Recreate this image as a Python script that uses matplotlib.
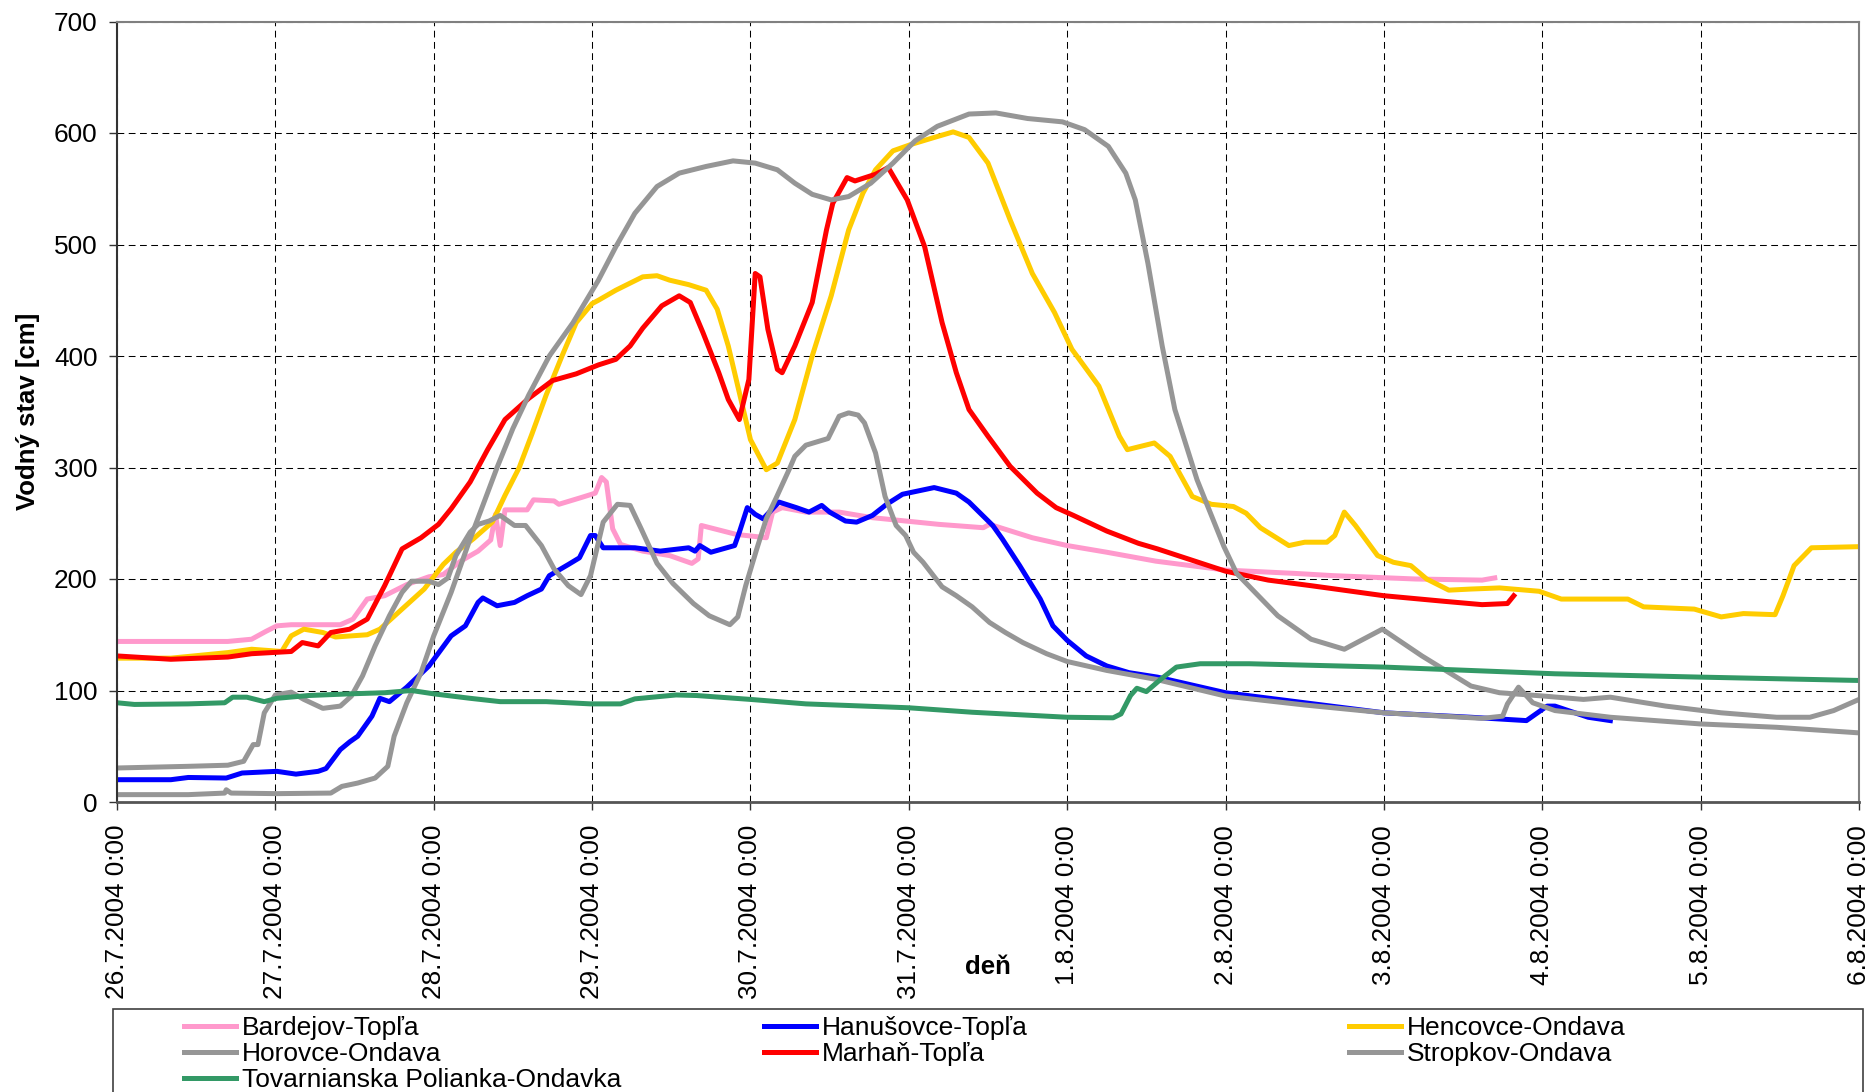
import matplotlib
matplotlib.use('Agg')
import matplotlib.pyplot as plt
from matplotlib.patches import Rectangle

plt.rcParams['font.family'] = ['Liberation Sans', 'DejaVu Sans']

# čas v dňoch od 26.7.2004 0:00, vodný stav v cm
bardejov_t = [0, 0.70, 0.85, 0.94, 1.01, 1.10, 1.41, 1.49, 1.58, 1.69, 1.83, 1.97, 2.06, 2.17, 2.28, 2.36,
              2.39, 2.42, 2.45, 2.59, 2.63, 2.76, 2.79, 2.93, 3.02, 3.06, 3.09, 3.13, 3.18, 3.32, 3.49, 3.63,
              3.67, 3.69, 3.91, 4.10, 4.14, 4.20, 4.35, 4.56, 4.77, 4.98, 5.19, 5.47, 5.51, 5.78, 6.0, 6.25,
              6.56, 7.0, 7.44, 7.68, 8.2, 8.62, 8.70]
bardejov_v = [144, 144, 146, 153, 158, 159, 159, 164, 182, 185, 195, 202, 204, 216, 225, 235,
              258, 230, 262, 262, 271, 270, 267, 273, 277, 291, 287, 245, 231, 225, 221, 214,
              218, 248, 240, 237, 260, 264, 260, 260, 255, 252, 249, 246, 249, 237, 230, 224,
              216, 208, 205, 203, 200, 199, 201]

hanusovce_t = [0, 0.34, 0.45, 0.69, 0.79, 1.01, 1.13, 1.27, 1.32, 1.41, 1.47, 1.52, 1.61, 1.66, 1.72, 1.83,
               1.97, 2.11, 2.20, 2.28, 2.31, 2.40, 2.51, 2.59, 2.68, 2.73, 2.85, 2.92, 2.99, 3.02, 3.07,
               3.27, 3.43, 3.61, 3.65, 3.68, 3.75, 3.90, 3.93, 3.98, 4.03, 4.08, 4.18, 4.29, 4.37, 4.45,
               4.50, 4.60, 4.67, 4.77, 4.86, 4.96, 5.16, 5.30, 5.38, 5.53, 5.59, 5.70, 5.83, 5.91, 6.0,
               6.12, 6.25, 6.39, 6.57, 7.0, 7.5, 8.0, 8.55, 8.9, 9.03, 9.08, 9.29, 9.43]
hanusovce_v = [20, 20, 22, 21.5, 26, 27.5, 25, 27.5, 30, 47, 54, 59, 77, 93, 90, 103,
               122, 149, 158, 179, 183, 176, 179, 185, 191, 203, 213, 219, 239, 239, 228,
               228, 225, 228, 225, 230, 224, 230, 242, 264, 258, 254, 269, 264, 260, 266,
               260, 252, 251, 257, 267, 276, 282, 277, 269, 248, 236, 212, 182, 158, 145,
               131, 122, 116, 112, 98, 89, 80, 76, 73, 86, 86, 76, 73]

hencovce_t = [0, 0.34, 0.70, 0.85, 1.04, 1.10, 1.18, 1.30, 1.38, 1.58, 1.66, 1.80, 1.94, 2.06, 2.14, 2.25,
              2.37, 2.45, 2.54, 2.62, 2.71, 2.81, 2.90, 3.0, 3.04, 3.15, 3.32, 3.41, 3.49, 3.61, 3.72,
              3.79, 3.86, 3.94, 4.0, 4.10, 4.17, 4.28, 4.39, 4.51, 4.62, 4.71, 4.79, 4.90, 5.02, 5.16,
              5.28, 5.38, 5.50, 5.64, 5.78, 5.92, 6.03, 6.20, 6.33, 6.38, 6.55, 6.65, 6.79, 6.91, 7.05,
              7.13, 7.22, 7.40, 7.50, 7.64, 7.69, 7.75, 7.82, 7.96, 8.06, 8.17, 8.27, 8.41, 8.55, 8.73,
              8.98, 9.12, 9.54, 9.64, 9.96, 10.13, 10.27, 10.47, 10.52, 10.59, 10.70, 11.0]
hencovce_v = [129, 129, 134, 137, 135, 149, 155, 152, 148, 150, 155, 173, 191, 213, 224, 236,
              251, 275, 300, 330, 365, 400, 430, 447, 450, 459, 471, 472, 468, 464, 459,
              442, 409, 361, 325, 298, 304, 343, 400, 454, 513, 546, 567, 584, 590, 596,
              601, 596, 573, 522, 474, 439, 406, 373, 328, 316, 322, 310, 274, 267, 265,
              259, 246, 230, 233, 233, 239, 260, 248, 221, 215, 212, 200, 190, 191, 192,
              189, 182, 182, 175, 173, 166, 169, 168, 185, 212, 228, 229]

horovce_t = [0, 0.45, 0.70, 0.80, 0.86, 0.89, 0.93, 1.0, 1.10, 1.18, 1.30, 1.41, 1.48, 1.55, 1.63, 1.72,
             1.80, 1.86, 1.97, 2.03, 2.09, 2.14, 2.23, 2.28, 2.35, 2.42, 2.51, 2.58, 2.68, 2.76, 2.85,
             2.93, 2.99, 3.07, 3.16, 3.24, 3.31, 3.41, 3.51, 3.64, 3.74, 3.87, 3.92, 3.97, 4.04, 4.10,
             4.16, 4.25, 4.28, 4.35, 4.49, 4.56, 4.62, 4.68, 4.72, 4.79, 4.85, 4.92, 4.98, 5.03, 5.09,
             5.15, 5.21, 5.30, 5.40, 5.51, 5.61, 5.72, 5.87, 6.0, 6.25, 6.56, 7.0, 7.5, 8.0, 8.62,
             8.75, 8.78, 8.85, 8.94, 9.08, 9.43, 10.0, 10.48, 11.0]
horovce_v = [30.5, 32, 33, 36.5, 51.5, 51.5, 80, 96, 98.5, 92, 84, 86, 95, 113, 140, 167,
             188, 198, 198, 195, 201, 221, 242, 249, 252, 257, 248, 248, 230, 209, 194,
             186, 203, 251, 267, 266, 245, 214, 196, 178, 167, 159, 166, 194, 227, 254,
             272, 300, 310, 320, 326, 346, 349, 347, 340, 313, 274, 248, 239, 224, 215,
             204, 193, 185, 175, 161, 152, 143, 133, 126, 118, 110, 95, 87, 80, 75,
             77, 88, 103, 89, 82, 76, 70, 67, 62]

marhan_t = [0, 0.34, 0.70, 0.85, 1.10, 1.17, 1.27, 1.35, 1.47, 1.58, 1.69, 1.80, 1.92, 2.03, 2.11, 2.23,
            2.34, 2.45, 2.60, 2.75, 2.90, 3.04, 3.15, 3.24, 3.32, 3.44, 3.55, 3.62, 3.70, 3.80, 3.86,
            3.93, 3.99, 4.03, 4.06, 4.11, 4.17, 4.20, 4.28, 4.39, 4.48, 4.52, 4.61, 4.66, 4.79, 4.87,
            4.99, 5.10, 5.21, 5.30, 5.38, 5.50, 5.64, 5.81, 5.93, 6.04, 6.25, 6.45, 6.57, 7.0, 7.27,
            7.54, 8.0, 8.38, 8.62, 8.78, 8.82]
marhan_v = [131, 128, 130, 133, 135, 143, 140, 152, 155, 164, 194, 227, 237, 249, 263, 287,
            316, 343, 362, 378, 384, 392, 397, 409, 425, 445, 454, 448, 421, 385, 361,
            343, 379, 474, 471, 424, 388, 385, 409, 448, 513, 537, 560, 557, 563, 569,
            540, 498, 430, 385, 352, 328, 301, 277, 264, 257, 243, 232, 227, 207, 199,
            194, 185, 180, 177, 178, 185]

stropkov_t = [0, 0.45, 0.68, 0.69, 0.72, 1.01, 1.35, 1.42, 1.52, 1.63, 1.71, 1.75, 1.83, 1.92, 2.0, 2.11,
              2.23, 2.31, 2.40, 2.50, 2.60, 2.73, 2.88, 3.04, 3.15, 3.27, 3.41, 3.55, 3.72, 3.89, 4.03,
              4.17, 4.28, 4.39, 4.51, 4.62, 4.76, 4.90, 5.04, 5.18, 5.38, 5.55, 5.75, 5.97, 6.11, 6.26,
              6.37, 6.43, 6.51, 6.60, 6.68, 6.82, 6.99, 7.07, 7.33, 7.54, 7.75, 7.99, 8.24, 8.55, 8.73,
              9.01, 9.26, 9.43, 9.78, 10.13, 10.48, 10.69, 10.84, 11.0]
stropkov_v = [6.6, 6.6, 8, 11, 8, 7.5, 8, 14, 17, 21.5, 32, 59, 89, 116, 149, 188,
              236, 266, 300, 335, 365, 400, 430, 468, 498, 528, 552, 564, 570, 575, 573,
              567, 555, 545, 540, 543, 555, 573, 593, 606, 617, 618, 613, 610, 603, 588,
              564, 540, 483, 409, 352, 289, 229, 205, 167, 146, 137, 155, 131, 104, 98,
              95, 92, 94, 86, 80, 76, 76, 82, 92]

tovarnianska_t = [0, 0.11, 0.45, 0.68, 0.73, 0.82, 0.93, 1.01, 1.21, 1.47, 1.69, 1.86, 2.0, 2.23, 2.42,
                  2.71, 2.99, 3.18, 3.27, 3.53, 3.66, 4.0, 4.35, 5.0, 5.40, 6.0, 6.29, 6.34, 6.40, 6.44,
                  6.50, 6.59, 6.69, 6.84, 7.15, 8.0, 9.08, 10.0, 11.0]
tovarnianska_v = [89, 87.5, 88, 89, 94, 94, 90, 93, 95.5, 97, 98, 100, 97, 93, 90,
                  90, 88, 88, 92.5, 96, 95.5, 92, 88, 84.5, 80.5, 76, 75.5, 79, 95.5, 102,
                  99, 110, 121, 124, 124, 121, 115, 112, 109]

x_labels = ['26.7.2004 0:00', '27.7.2004 0:00', '28.7.2004 0:00', '29.7.2004 0:00',
            '30.7.2004 0:00', '31.7.2004 0:00', '1.8.2004 0:00', '2.8.2004 0:00',
            '3.8.2004 0:00', '4.8.2004 0:00', '5.8.2004 0:00', '6.8.2004 0:00']

series = [
    ('Bardejov-Topľa', bardejov_t, bardejov_v, '#FF99CC'),
    ('Hanušovce-Topľa', hanusovce_t, hanusovce_v, '#0000FF'),
    ('Hencovce-Ondava', hencovce_t, hencovce_v, '#FFCC00'),
    ('Horovce-Ondava', horovce_t, horovce_v, '#969696'),
    ('Marhaň-Topľa', marhan_t, marhan_v, '#FF0000'),
    ('Stropkov-Ondava', stropkov_t, stropkov_v, '#969696'),
    ('Tovarnianska Polianka-Ondavka', tovarnianska_t, tovarnianska_v, '#339966'),
]

W, H = 1872, 1092
fig = plt.figure(figsize=(W / 100, H / 100), dpi=100)
ax = fig.add_axes([117 / W, 1 - 802 / H, (1859 - 117) / W, (802 - 21.5) / H])

lines = []
for name, t, v, c in series:
    ln, = ax.plot(t, v, color=c, lw=3.6, label=name, solid_joinstyle='round')
    lines.append(ln)

ax.set_xlim(0, 11)
ax.set_ylim(0, 700)
ax.set_xticks(range(12))
ax.set_xticklabels(x_labels, rotation=90)
ax.set_yticks(range(0, 701, 100))
ax.tick_params(axis='both', direction='out', length=6, width=1, color='#333333', labelsize=18.8)
ax.tick_params(axis='x', pad=10.5)
ax.tick_params(axis='y', pad=8)

ax.grid(True, color='black', linestyle=(0, (6.5, 4.3)), linewidth=0.75)
ax.set_axisbelow(True)

for side in ('top', 'right'):
    ax.spines[side].set_color('#808080')
    ax.spines[side].set_linewidth(1.5)
ax.spines['left'].set_color('#333333')
ax.spines['left'].set_linewidth(1.5)
ax.spines['bottom'].set_color('#555555')
ax.spines['bottom'].set_linewidth(2)

ax.set_ylabel('Vodný stav [cm]', fontsize=18.5, fontweight='bold')
ax.yaxis.set_label_coords((40 - 117) / 1742, 0.5)
ax.set_xlabel('deň', fontsize=18.5, fontweight='bold')
ax.xaxis.set_label_coords(0.5, (802.4 - 955) / 780.9)

# legenda: rámček a tri stĺpce
fig.add_artist(Rectangle((113 / W, -0.05), (1863 - 113) / W, 0.05 + 1 - 1009 / H,
                         transform=fig.transFigure, fill=False, edgecolor='#404040', lw=1.2))
columns = [([0, 3, 6], 184), ([1, 4], 764), ([2, 5], 1349)]
for idx, x0 in columns:
    leg = fig.legend([lines[i] for i in idx], [series[i][0] for i in idx],
                     loc='upper left', bbox_to_anchor=(x0 / W, 1 - 1016 / H),
                     frameon=False, fontsize=19, borderpad=0, borderaxespad=0,
                     handlelength=1.97, handletextpad=0.23, labelspacing=0.08)
    for h in leg.legend_handles:
        h.set_linewidth(3.6)

fig.savefig('out.png', dpi=100)
